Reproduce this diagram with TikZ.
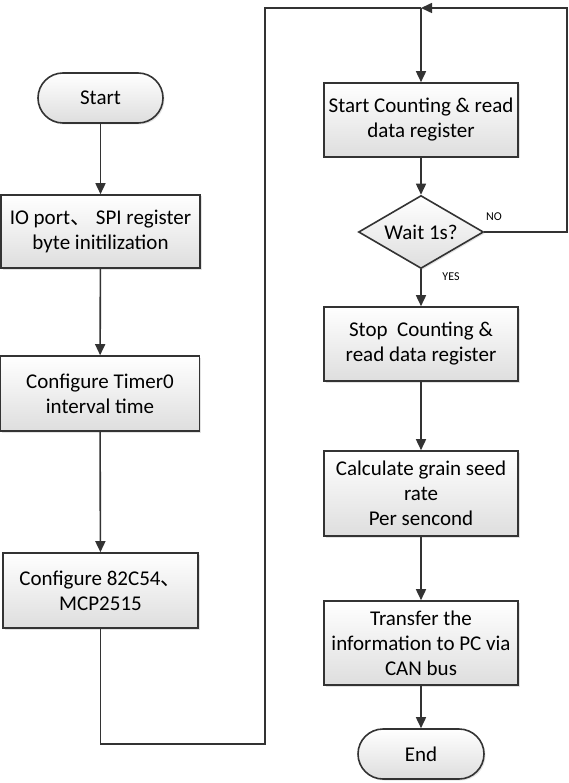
\documentclass[tikz,border=0pt]{standalone}
\usepackage{fontspec}
\setmainfont{Carlito}
\newfontfamily\cjk{Noto Sans CJK SC}
\usetikzlibrary{shapes.geometric,arrows.meta,shadows}
\colorlet{linec}{black!80}
\colorlet{shadowc}{black!22}
\begin{document}
\begin{tikzpicture}[x=1pt,y=1pt,
  line width=1.6pt,
  every node/.style={font=\fontsize{21}{25}\selectfont},
  boxstyle/.style={draw=linec, top color=white, bottom color=black!13,
    align=center, inner sep=0pt, minimum width=#1,
    drop shadow={shadow xshift=1.5pt, shadow yshift=-1.5pt, fill=shadowc}},
  termstyle/.style={boxstyle=#1, rounded corners=25pt, minimum height=50pt},
  decstyle/.style={draw=linec, top color=white, bottom color=black!13,
    shape=diamond, inner sep=0pt, minimum width=125pt, minimum height=73pt,
    drop shadow={shadow xshift=1.5pt, shadow yshift=-1.5pt, fill=shadowc}},
  flow/.style={color=linec, -{Triangle[width=10pt,length=11pt,fill=linec]}},
  plainline/.style={color=linec},
  small/.style={font=\fontsize{12}{14}\selectfont}
]
\useasboundingbox (0,0) rectangle (568,-783);

% left column
\node[termstyle=125pt] (start) at (100.5,-98) {Start};
\node[boxstyle=199pt, minimum height=73pt] (io) at (100.5,-231.5) {IO port{\cjk 、} SPI register\\byte initilization};
\node[boxstyle=199pt, minimum height=75pt] (timer) at (100,-393.5) {Configure Timer0\\interval time};
\node[boxstyle=195pt, minimum height=75pt] (cfg) at (100.5,-590.5) {Configure 82C54{\cjk 、}\\MCP2515};

% right column
\node[boxstyle=194pt, minimum height=74pt] (startc) at (421,-120) {Start Counting \& read\\data register};
\node[decstyle] (wait) at (421,-232) {\makebox[0pt][c]{Wait 1s?}};
\node[boxstyle=194pt, minimum height=74pt] (stopc) at (421,-344) {Stop\ \ Counting \&\\read data register};
\node[boxstyle=194pt, minimum height=85pt] (calc) at (421,-493.5) {Calculate grain seed\\rate\\Per sencond};
\node[boxstyle=194pt, minimum height=84pt] (xfer) at (421,-643) {Transfer the\\information to PC via\\CAN bus};
\node[termstyle=126pt] (end) at (421,-754) {End};

% helper coordinates
\coordinate (b1) at (100.5,-744);
\coordinate (b2) at (265,-744);
\coordinate (t1) at (265,-8);
\coordinate (j) at (421,-8);
\coordinate (r1) at (567,-232);
\coordinate (r2) at (567,-8);

% connectors
\draw[flow] (start) -- (io);
\draw[flow] (io) -- (timer);
\draw[flow] (timer) -- (cfg);
\draw[plainline] (cfg.south) -- (b1) -- (b2) -- (t1) -- (j);
\draw[flow] (j) -- (startc.north);
\draw[flow] (startc) -- (wait);
\draw[flow] (wait.south) -- (stopc.north);
\draw[flow] (wait.east) -- (r1) -- (r2) -- (j);
\draw[flow] (stopc) -- (calc);
\draw[flow] (calc) -- (xfer);
\draw[flow] (xfer) -- (end);

% labels
\node[small] (no) at (494,-217) {NO};
\node[small] (yes) at (451,-277) {YES};
\end{tikzpicture}
\end{document}
